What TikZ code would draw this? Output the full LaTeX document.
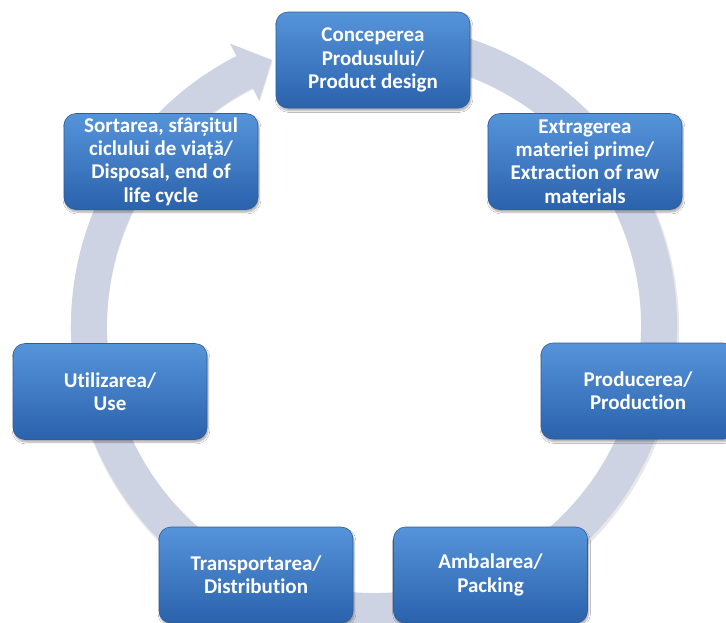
\documentclass[tikz,border=0pt]{standalone}
\usepackage{fontspec}
\setmainfont{Carlito}[Ligatures={NoCommon,NoRare}]
\usetikzlibrary{calc,shadows.blur}
\definecolor{ringc}{RGB}{205,211,226}
\definecolor{boxtop}{RGB}{86,148,218}
\definecolor{boxbot}{RGB}{42,98,172}
\definecolor{boxline}{RGB}{48,92,156}
\tikzset{
  stepbox/.style={rounded corners=12pt, minimum width=194pt, minimum height=96pt,
    draw=boxline, line width=0.6pt, top color=boxtop, bottom color=boxbot,
    text=white, align=center, inner sep=1pt,
    font=\bfseries\fontsize{21}{23.3}\selectfont,
    blur shadow={shadow blur steps=6, shadow xshift=1pt, shadow yshift=-2.5pt, shadow opacity=35}},
}
\begin{document}
\begin{tikzpicture}[x=1pt,y=-1pt]
\useasboundingbox (0,0) rectangle (726,622);
\fill[white] (0,0) rectangle (726,622);
\coordinate (C) at (374,326);
% ring arrow
\fill[black!25,opacity=0.35]
  ($(C)+(80:304pt)+(1pt,-2pt)$) arc[start angle=80, end angle=-243, radius=304pt]
  -- ($(C)+(-243:318pt)+(1pt,-2pt)$) -- ($(C)+(-249:286pt)+(1pt,-2pt)$)
  -- ($(C)+(-243:254pt)+(1pt,-2pt)$) -- ($(C)+(-243:268pt)+(1pt,-2pt)$)
  arc[start angle=-243, end angle=80, radius=268pt] -- cycle;
\fill[ringc]
  ($(C)+(80:303pt)$) arc[start angle=80, end angle=-243, radius=303pt]
  -- ($(C)+(-243:317pt)$) -- ($(C)+(-249:285pt)$)
  -- ($(C)+(-243:253pt)$) -- ($(C)+(-243:267pt)$)
  arc[start angle=-243, end angle=80, radius=267pt] -- cycle;
% boxes
\node[stepbox] (design) at (373,60) {Conceperea\\Produsului/\\Product design};
\node[stepbox] (extract) at (585,161.5) {Extragerea\\materiei prime/\\Extraction of raw\\materials};
\node[stepbox] (produce) at (638,391) {Producerea/\\Production};
\node[stepbox] (pack) at (490.5,575) {Ambalarea/\\Packing};
\node[stepbox] (transport) at (256,575) {Transportarea/\\Distribution};
\node[stepbox] (use) at (110,391.5) {Utilizarea/\\Use};
\node[stepbox] (dispose) at (161,161.5) {Sortarea, sfârșitul\\ciclului de viață/\\Disposal, end of\\life cycle};
\end{tikzpicture}
\end{document}
